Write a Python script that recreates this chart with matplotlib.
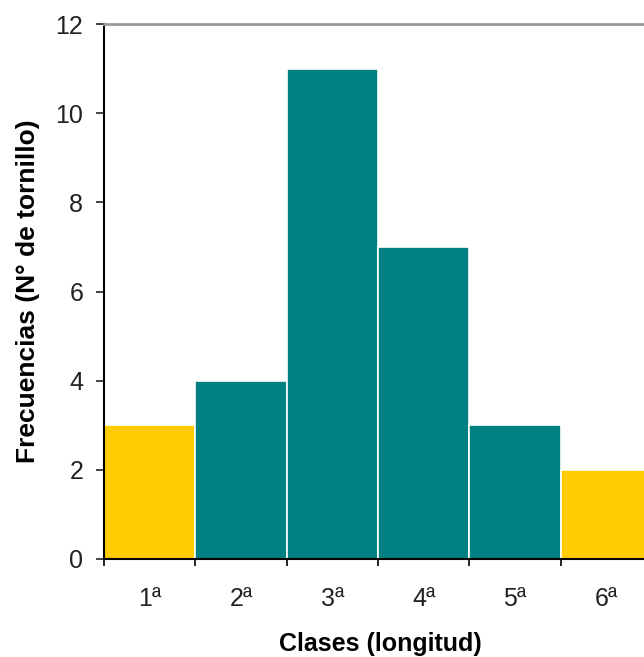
import numpy as np
import matplotlib
matplotlib.use("Agg")
import matplotlib.pyplot as plt

# Frequency table: bolt length classes
clases = ["1ª", "2ª", "3ª", "4ª", "5ª", "6ª"]
frecuencias = [3, 4, 11, 7, 3, 2]
colores = ["#FFCC00", "#008080", "#008080", "#008080", "#008080", "#FFCC00"]

plt.rcParams['font.family'] = ['Liberation Sans', 'DejaVu Sans']

fig = plt.figure(figsize=(6.44, 6.57), dpi=100)
# plot area runs past the right edge of the figure
ax = fig.add_axes([104/644, 98/657, 548/644, 535/657])

edges = np.arange(len(clases))
ax.bar(edges, frecuencias, width=1.0, align='edge', color=colores,
       edgecolor='white', linewidth=1.2)

ax.set_xlim(0, len(clases))
ax.set_ylim(0, 12)
ax.set_yticks(range(0, 13, 2))
ax.set_xticks(range(len(clases) + 1))
ax.set_xticklabels([])
ax.set_xticks(edges + 0.5, minor=True)
ax.set_xticklabels(clases, minor=True)

ax.tick_params(axis='y', direction='out', length=6, width=1.2, labelsize=18,
               pad=9, colors='#222222')
ax.tick_params(axis='x', which='major', direction='out', length=5, width=1.2)
ax.tick_params(axis='x', which='minor', length=0, labelsize=18, pad=20,
               colors='#222222')

for s in ['left', 'bottom']:
    ax.spines[s].set_linewidth(1.5)
    ax.spines[s].set_color('black')
ax.spines['top'].set_color('#999999')
ax.spines['top'].set_linewidth(2)
ax.spines['right'].set_visible(False)

ax.set_xlabel("Clases (longitud)", fontsize=18, fontweight='bold')
ax.set_ylabel("Frecuencias (N° de tornillo)", fontsize=19, fontweight='bold')
ax.xaxis.set_label_coords(0.505, -0.136)
ax.yaxis.set_label_coords(-0.117, 0.5)

fig.savefig("out.png", dpi=100)
